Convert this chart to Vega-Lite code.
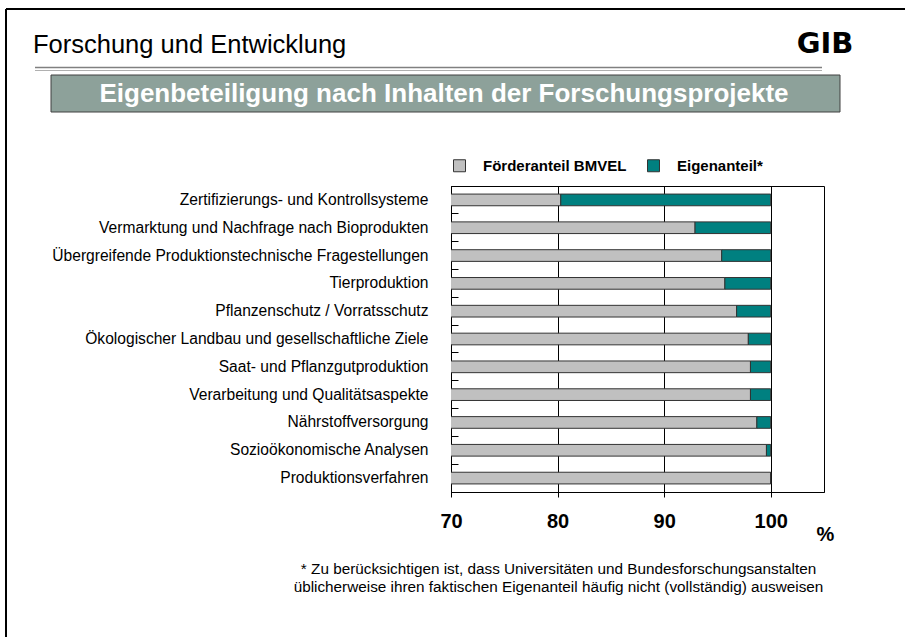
{
  "$schema": "https://vega.github.io/schema/vega-lite/v6.json",
  "width": 373,
  "height": 306,
  "autosize": {"type": "none"},
  "padding": {"left": 451, "top": 186, "right": 81, "bottom": 145},
  "background": "white",
  "config": {"view": {"stroke": "black", "strokeWidth": 1}, "font": "Liberation Sans"},
  "layer": [
    {
      "data": {
        "values": [
          {"Thema": "Zertifizierungs- und Kontrollsysteme", "Förderanteil BMVEL": 80.3, "Eigenanteil": 19.7},
          {"Thema": "Vermarktung und Nachfrage nach Bioprodukten", "Förderanteil BMVEL": 92.9, "Eigenanteil": 7.1},
          {"Thema": "Übergreifende Produktionstechnische Fragestellungen", "Förderanteil BMVEL": 95.4, "Eigenanteil": 4.6},
          {"Thema": "Tierproduktion", "Förderanteil BMVEL": 95.7, "Eigenanteil": 4.3},
          {"Thema": "Pflanzenschutz / Vorratsschutz", "Förderanteil BMVEL": 96.8, "Eigenanteil": 3.2},
          {"Thema": "Ökologischer Landbau und gesellschaftliche Ziele", "Förderanteil BMVEL": 97.9, "Eigenanteil": 2.1},
          {"Thema": "Saat- und Pflanzgutproduktion", "Förderanteil BMVEL": 98.1, "Eigenanteil": 1.9},
          {"Thema": "Verarbeitung und Qualitätsaspekte", "Förderanteil BMVEL": 98.1, "Eigenanteil": 1.9},
          {"Thema": "Nährstoffversorgung", "Förderanteil BMVEL": 98.7, "Eigenanteil": 1.3},
          {"Thema": "Sozioökonomische Analysen", "Förderanteil BMVEL": 99.6, "Eigenanteil": 0.4},
          {"Thema": "Produktionsverfahren", "Förderanteil BMVEL": 100, "Eigenanteil": 0}
        ]
      },
      "transform": [{"fold": ["Förderanteil BMVEL", "Eigenanteil"], "as": ["Anteil", "Prozent"]}],
      "mark": {"type": "bar", "clip": true, "stroke": "#333333", "strokeWidth": 1},
      "encoding": {
        "y": {
          "field": "Thema",
          "type": "nominal",
          "sort": null,
          "scale": {"paddingInner": 0.58, "paddingOuter": 0.29},
          "axis": {
            "title": ["* Zu berücksichtigen ist, dass Universitäten und Bundesforschungsanstalten", "üblicherweise ihren faktischen Eigenanteil häufig nicht (vollständig) ausweisen"],
            "titleAngle": 0,
            "titleAlign": "center",
            "titleBaseline": "top",
            "titleX": 107,
            "titleY": 375,
            "titleFont": "Liberation Sans",
            "titleFontSize": 15.3,
            "titleFontWeight": "normal",
            "titleColor": "black",
            "titleLineHeight": 18,
            "labelFont": "Liberation Sans",
            "labelFontSize": 15.6,
            "labelColor": "black",
            "labelPadding": 30,
            "labelLimit": 500,
            "tickSize": -7,
            "tickColor": "black",
            "bandPosition": -0.69,
            "domainColor": "black",
            "grid": false
          }
        },
        "x": {
          "field": "Prozent",
          "type": "quantitative",
          "stack": "zero",
          "scale": {"domain": [70, 105], "nice": false, "zero": false},
          "axis": {
            "values": [70, 80, 90, 100],
            "title": "%",
            "titleX": 374,
            "titleY": 48,
            "titleAlign": "center",
            "titleBaseline": "alphabetic",
            "titleFont": "Liberation Sans",
            "titleFontSize": 20,
            "titleFontWeight": "bold",
            "titleColor": "black",
            "labelFont": "Liberation Sans",
            "labelFontSize": 20,
            "labelFontWeight": "bold",
            "labelColor": "black",
            "labelPadding": 14,
            "labelFlush": false,
            "tickSize": 5,
            "tickColor": "black",
            "domainColor": "black",
            "grid": true,
            "gridColor": "black",
            "gridOpacity": 1
          }
        },
        "color": {
          "field": "Anteil",
          "type": "nominal",
          "scale": {"domain": ["Förderanteil BMVEL", "Eigenanteil"], "range": ["#c0c0c0", "#008080"]},
          "legend": {
            "title": null,
            "orient": "none",
            "legendX": 1,
            "legendY": -28,
            "direction": "horizontal",
            "symbolType": "square",
            "symbolSize": 144,
            "symbolStrokeColor": "#333333",
            "symbolStrokeWidth": 1,
            "symbolOpacity": 1,
            "labelFont": "Liberation Sans",
            "labelFontSize": 15,
            "labelFontWeight": "bold",
            "labelColor": "black",
            "labelOffset": 16,
            "columnPadding": 18,
            "labelLimit": 300,
            "labelExpr": "datum.label == 'Eigenanteil' ? 'Eigenanteil*' : datum.label"
          }
        },
        "order": {"field": "Anteil", "sort": "descending"}
      }
    },
    {
      "data": {"values": [{}]},
      "layer": [
        {
          "mark": {"type": "rule", "color": "black", "strokeWidth": 2},
          "encoding": {
            "x": {"datum": 6, "type": "quantitative", "scale": {"domain": [0, 905], "range": [-451, 454], "nice": false, "zero": false}, "axis": null},
            "x2": {"datum": 905},
            "y": {"datum": 9, "type": "quantitative", "scale": {"domain": [0, 637], "range": [-186, 451], "nice": false, "zero": false}, "axis": null}
          }
        },
        {
          "mark": {"type": "rule", "color": "black", "strokeWidth": 2},
          "encoding": {
            "x": {"datum": 6, "type": "quantitative", "scale": {"domain": [0, 905], "range": [-451, 454], "nice": false, "zero": false}, "axis": null},
            "y": {"datum": 9, "type": "quantitative", "scale": {"domain": [0, 637], "range": [-186, 451], "nice": false, "zero": false}, "axis": null},
            "y2": {"datum": 637}
          }
        },
        {
          "mark": {"type": "rule", "color": "#808080", "strokeWidth": 1.5},
          "encoding": {
            "x": {"datum": 35, "type": "quantitative", "scale": {"domain": [0, 905], "range": [-451, 454], "nice": false, "zero": false}, "axis": null},
            "x2": {"datum": 822},
            "y": {"datum": 67.5, "type": "quantitative", "scale": {"domain": [0, 637], "range": [-186, 451], "nice": false, "zero": false}, "axis": null}
          }
        },
        {
          "mark": {"type": "rule", "color": "#b0b0b0", "strokeWidth": 1},
          "encoding": {
            "x": {"datum": 35, "type": "quantitative", "scale": {"domain": [0, 905], "range": [-451, 454], "nice": false, "zero": false}, "axis": null},
            "x2": {"datum": 822},
            "y": {"datum": 70.5, "type": "quantitative", "scale": {"domain": [0, 637], "range": [-186, 451], "nice": false, "zero": false}, "axis": null}
          }
        },
        {
          "mark": {"type": "rect", "fill": "#8da19a", "stroke": "#404040", "strokeWidth": 1},
          "encoding": {
            "x": {"datum": 51, "type": "quantitative", "scale": {"domain": [0, 905], "range": [-451, 454], "nice": false, "zero": false}, "axis": null},
            "x2": {"datum": 840},
            "y": {"datum": 75, "type": "quantitative", "scale": {"domain": [0, 637], "range": [-186, 451], "nice": false, "zero": false}, "axis": null},
            "y2": {"datum": 112}
          }
        },
        {
          "mark": {"type": "text", "text": "Eigenbeteiligung nach Inhalten der Forschungsprojekte", "align": "center", "baseline": "middle", "font": "Liberation Sans", "fontSize": 26, "fontWeight": "bold", "color": "white"},
          "encoding": {
            "x": {"datum": 444, "type": "quantitative", "scale": {"domain": [0, 905], "range": [-451, 454], "nice": false, "zero": false}, "axis": null},
            "y": {"datum": 94, "type": "quantitative", "scale": {"domain": [0, 637], "range": [-186, 451], "nice": false, "zero": false}, "axis": null}
          }
        },
        {
          "mark": {"type": "text", "text": "Forschung und Entwicklung", "align": "left", "baseline": "alphabetic", "font": "Liberation Sans", "fontSize": 25.5, "color": "black"},
          "encoding": {
            "x": {"datum": 33, "type": "quantitative", "scale": {"domain": [0, 905], "range": [-451, 454], "nice": false, "zero": false}, "axis": null},
            "y": {"datum": 53, "type": "quantitative", "scale": {"domain": [0, 637], "range": [-186, 451], "nice": false, "zero": false}, "axis": null}
          }
        },
        {
          "mark": {"type": "text", "text": "GIB", "align": "center", "baseline": "alphabetic", "font": "DejaVu Sans", "fontSize": 29, "fontWeight": "bold", "color": "black"},
          "encoding": {
            "x": {"datum": 825, "type": "quantitative", "scale": {"domain": [0, 905], "range": [-451, 454], "nice": false, "zero": false}, "axis": null},
            "y": {"datum": 53, "type": "quantitative", "scale": {"domain": [0, 637], "range": [-186, 451], "nice": false, "zero": false}, "axis": null}
          }
        }
      ]
    }
  ],
  "resolve": {
    "scale": {"x": "independent", "y": "independent"},
    "axis": {"x": "independent", "y": "independent"}
  }
}
